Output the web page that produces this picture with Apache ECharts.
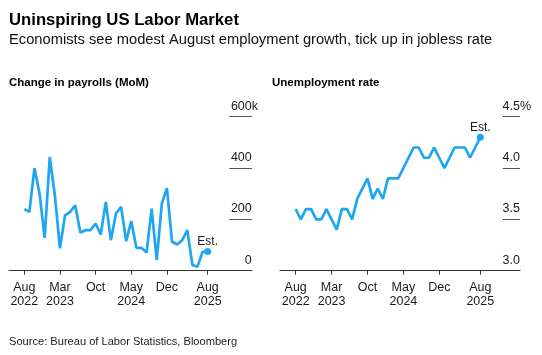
<!DOCTYPE html>
<html>
<head>
<meta charset="utf-8">
<script src="https://cdn.jsdelivr.net/npm/echarts@6/dist/echarts.min.js"></script>
<style>
  html, body { margin: 0; padding: 0; background: #fff; }
  #chart { width: 542px; height: 355px; }
</style>
</head>
<body>
<div id="chart"></div>
<script>
// Months Aug 2022 .. Aug 2025 (index 0..36)
const months = ['2022-08','2022-09','2022-10','2022-11','2022-12','2023-01','2023-02','2023-03','2023-04','2023-05','2023-06','2023-07','2023-08','2023-09','2023-10','2023-11','2023-12','2024-01','2024-02','2024-03','2024-04','2024-05','2024-06','2024-07','2024-08','2024-09','2024-10','2024-11','2024-12','2025-01','2025-02','2025-03','2025-04','2025-05','2025-06','2025-07','2025-08'];

// Change in nonfarm payrolls, thousands (last = estimate)
const payrolls = [240, 229, 400, 300, 128, 443, 294, 87, 216, 229, 255, 149, 158, 158, 184, 141, 268, 119, 223, 249, 115, 193, 89, 89, 71, 242, 41, 262, 322, 113, 102, 119, 158, 22, 16, 73, 75];

// Unemployment rate, % (last = estimate)
const unemployment = [3.6, 3.5, 3.6, 3.6, 3.5, 3.5, 3.6, 3.5, 3.4, 3.6, 3.6, 3.5, 3.7, 3.8, 3.9, 3.7, 3.8, 3.7, 3.9, 3.9, 3.9, 4.0, 4.1, 4.2, 4.2, 4.1, 4.1, 4.2, 4.1, 4.0, 4.1, 4.2, 4.2, 4.2, 4.1, 4.2, 4.3];

// X tick positions (month index) and labels
const xTickIndex = [0, 7, 14, 21, 28, 36];
const xTickLabels = ['Aug\n2022', 'Mar\n2023', 'Oct', 'May\n2024', 'Dec', 'Aug\n2025'];

// Y tick labels
const payTicks = [0, 200, 400, 600];
const rateTicks = [3.0, 3.5, 4.0, 4.5];

const LINE = '#1fa6f0';
const FONT = '"Liberation Sans", Arial, Helvetica, sans-serif';
const TXT = '#1a1a1a';

function seriesData(values) {
  return values.map((v, i) => {
    const item = { value: [i, v] };
    if (i === values.length - 1) {
      item.symbol = 'circle';
      item.symbolSize = 7;
      item.label = { show: true, formatter: 'Est.', position: 'top', distance: 0,
        color: TXT, fontSize: 12, fontFamily: FONT };
    }
    return item;
  });
}

function xAxis(gridIndex, min, max) {
  return {
    type: 'value', gridIndex, min, max,
    axisLine: { show: true, lineStyle: { color: '#333', width: 1 } },
    axisTick: { show: true, customValues: xTickIndex, length: 4, lineStyle: { color: '#333' } },
    axisLabel: {
      customValues: xTickIndex,
      formatter: v => xTickLabels[xTickIndex.indexOf(Math.round(v))] || '',
      color: TXT, fontSize: 12.5, fontFamily: FONT, lineHeight: 14, margin: 10
    },
    splitLine: { show: false }
  };
}

function yAxis(gridIndex, min, max, interval, ticks, unit, margin, fmt) {
  const top = ticks[ticks.length - 1];
  return {
    type: 'value', gridIndex, position: 'right', min, max, interval,
    axisLine: { show: false },
    splitLine: { show: false },
    axisTick: { show: false },
    axisLabel: {
      inside: true,
      margin: margin,
      verticalAlign: 'bottom',
      padding: [0, 0, 4, 0],
      formatter: v => '{n|' + fmt(v) + '}' + (Math.abs(v - top) < 1e-9 ? '{u|' + unit + '}' : '{h|' + unit + '}'),
      rich: {
        n: { color: TXT, fontSize: 12.5, fontFamily: FONT },
        u: { color: TXT, fontSize: 12.5, fontFamily: FONT },
        h: { color: 'rgba(0,0,0,0)', fontSize: 12.5, fontFamily: FONT }
      }
    }
  };
}

// Short gridline segments under the y labels (separate narrow grids)
function segX(gridIndex) {
  return { type: 'value', gridIndex, min: 0, max: 1, show: false };
}
function segY(gridIndex, min, max, interval) {
  return {
    type: 'value', gridIndex, min, max, interval,
    axisLine: { show: false }, axisTick: { show: false }, axisLabel: { show: false },
    splitLine: { show: true, lineStyle: { color: '#555', width: 1 } }
  };
}

const chart = echarts.init(document.getElementById('chart'), null, { renderer: 'canvas' });

const titleBase = { padding: 0 };
chart.setOption({
  animation: false,
  backgroundColor: '#fff',
  title: [
    Object.assign({ text: 'Uninspiring US Labor Market', left: 9, top: 11.5,
      textStyle: { fontSize: 16.7, fontWeight: 'bold', color: '#000', fontFamily: FONT } }, titleBase),
    Object.assign({ text: 'Economists see modest August employment growth, tick up in jobless rate', left: 9, top: 32.5,
      textStyle: { fontSize: 14.7, fontWeight: 'normal', color: '#111', fontFamily: FONT } }, titleBase),
    Object.assign({ text: 'Change in payrolls (MoM)', left: 9, top: 77,
      textStyle: { fontSize: 11.5, fontWeight: 'bold', color: '#000', fontFamily: FONT } }, titleBase),
    Object.assign({ text: 'Unemployment rate', left: 272, top: 77,
      textStyle: { fontSize: 11.5, fontWeight: 'bold', color: '#000', fontFamily: FONT } }, titleBase),
    Object.assign({ text: 'Source: Bureau of Labor Statistics, Bloomberg', left: 9, top: 336.5,
      textStyle: { fontSize: 11.1, fontWeight: 'normal', color: '#222', fontFamily: FONT } }, titleBase)
  ],
  grid: [
    { left: 9, right: 290, top: 116.7, height: 154, outerBoundsMode: 'none' },
    { left: 280, right: 22, top: 116.7, height: 154, outerBoundsMode: 'none' },
    { left: 229.3, right: 290, top: 116.7, height: 154, outerBoundsMode: 'none' },
    { left: 502.7, right: 22, top: 116.7, height: 154, outerBoundsMode: 'none' }
  ],
  xAxis: [
    xAxis(0, -3.0, 44.7),
    xAxis(1, -3.06, 43.74),
    segX(2),
    segX(3)
  ],
  yAxis: [
    yAxis(0, 0, 600, 200, payTicks, 'k', -6, v => String(v)),
    yAxis(1, 3.0, 4.5, 0.5, rateTicks, '%', -11, v => v.toFixed(1)),
    segY(2, 0, 600, 200),
    segY(3, 3.0, 4.5, 0.5)
  ],
  series: [
    { type: 'line', xAxisIndex: 0, yAxisIndex: 0, data: seriesData(payrolls), z: 5,
      symbol: 'circle', symbolSize: 0, showSymbol: true,
      lineStyle: { color: LINE, width: 2.7 }, itemStyle: { color: LINE } },
    { type: 'line', xAxisIndex: 1, yAxisIndex: 1, data: seriesData(unemployment), z: 5,
      symbol: 'circle', symbolSize: 0, showSymbol: true,
      lineStyle: { color: LINE, width: 2.7 }, itemStyle: { color: LINE } }
  ]
});
</script>
</body>
</html>
